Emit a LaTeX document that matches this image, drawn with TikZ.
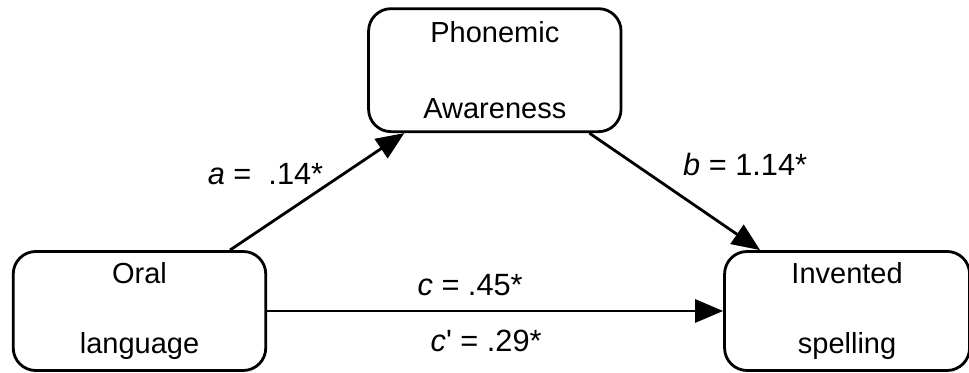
\documentclass[tikz,border=0pt]{standalone}
\usepackage{fontspec}
\setmainfont{Liberation Sans}
\usepackage{tikz}
\usetikzlibrary{arrows.meta,positioning}

\begin{document}
\begin{tikzpicture}[
  var/.style={rectangle, rounded corners=0.45cm, draw=black, line width=1.6pt,
              minimum width=5.05cm, minimum height=2.38cm,
              font=\fontsize{16.5}{40}\selectfont, align=center},
  arr/.style={-{Triangle[length=0.56cm, width=0.46cm]}, line width=1.6pt},
  coef/.style={font=\fontsize{17.5}{20}\selectfont, inner sep=2pt},
]
\useasboundingbox (0,0) rectangle (19.38,7.46);

% boxes
\node[var] (oral) at (2.79,1.24) {Oral\\language};
\node[var, minimum width=4.9cm, right=9.12cm of oral] (spell) {Invented\\spelling};
\node[var, minimum height=2.46cm, font=\fontsize{16.5}{43}\selectfont,
      above right=2.34cm and 2.0cm of oral] (phon) {Phonemic\\Awareness};

% paths
\draw[arr] ([xshift=1.81cm]oral.north) -- node[coef, pos=0.52, above left=0pt and 2pt, xshift=0.22cm]
  {\textit{a} =\ \ .14*} ([xshift=-1.81cm]phon.south);
\draw[arr] ([xshift=1.89cm]phon.south) -- node[coef, pos=0.5, above right=6pt and 12pt, xshift=-0.35cm]
  {\textit{b} = 1.14*} ([xshift=-1.74cm]spell.north);
\draw[arr] (oral.east) -- node[coef, midway, above=6pt, xshift=-0.5cm] {\textit{c} = .45*}
  node[coef, midway, below=8pt, xshift=-0.18cm] {\textit{c}\textquotesingle{} = .29*} (spell.west);
\end{tikzpicture}
\end{document}
